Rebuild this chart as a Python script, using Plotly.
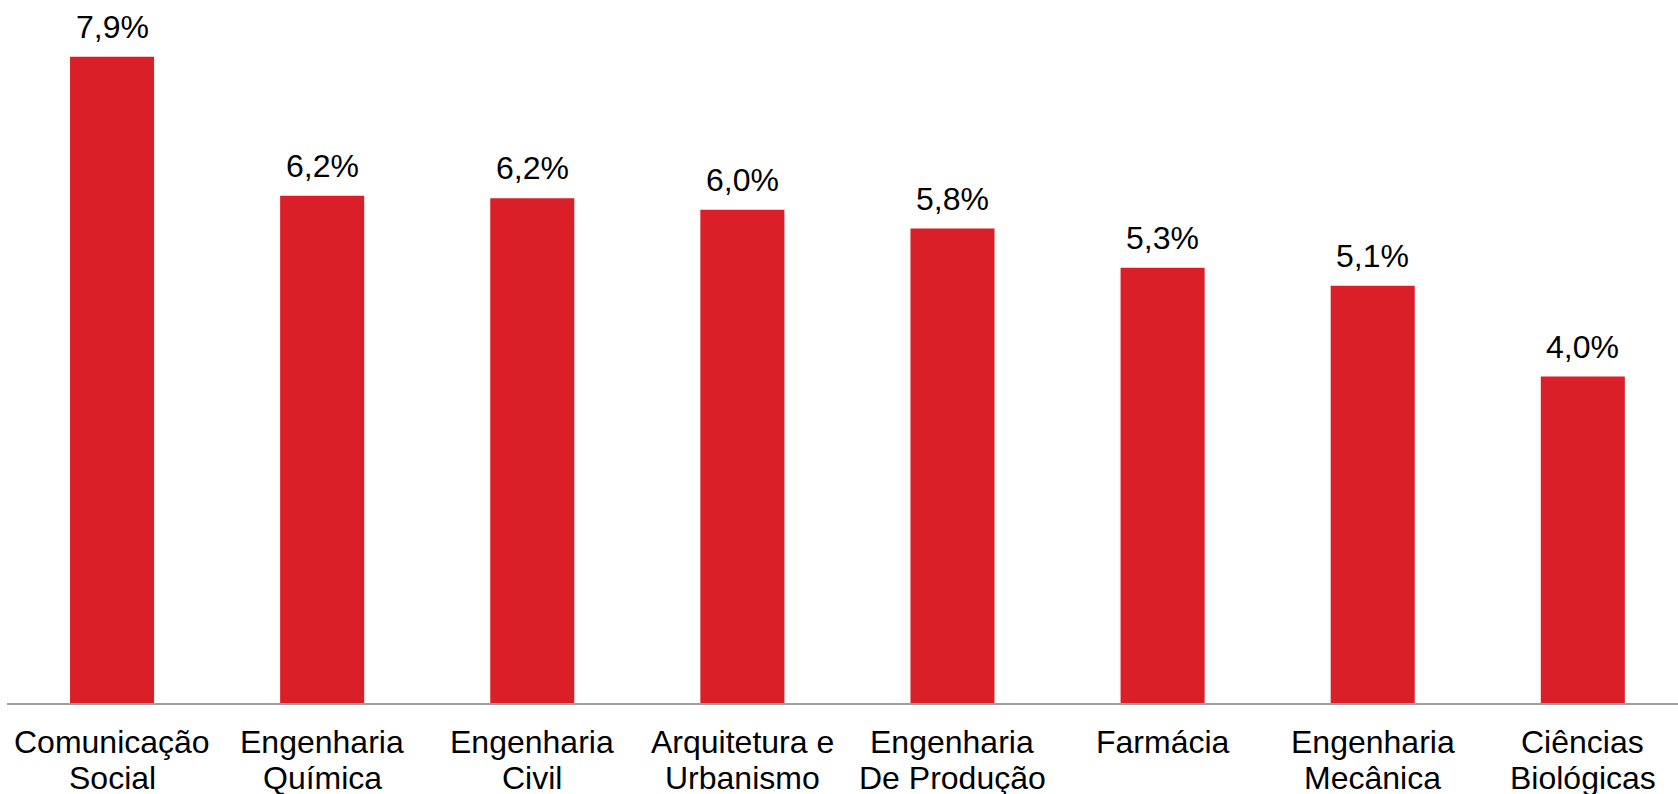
import plotly.graph_objects as go

categories = [
    "Comunicação\nSocial",
    "Engenharia\nQuímica",
    "Engenharia\nCivil",
    "Arquitetura e\nUrbanismo",
    "Engenharia\nDe Produção",
    "Farmácia",
    "Engenharia\nMecânica",
    "Ciências\nBiológicas",
]
values = [7.9, 6.2, 6.17, 6.03, 5.8, 5.32, 5.1, 3.99]

labels = [f"{v:.1f}%".replace(".", ",") for v in values]
xs = list(range(len(categories)))

fig = go.Figure()
fig.add_trace(go.Bar(
    x=xs,
    y=values,
    width=0.4,
    marker=dict(color="#da1f28", line=dict(width=0)),
    hovertext=[c.replace("\n", " ") for c in categories],
))

# value labels above bars
for x, v, lab in zip(xs, values, labels):
    fig.add_annotation(x=x, y=v, text=lab, showarrow=False,
                       yanchor="middle", yshift=30,
                       font=dict(size=32, color="black"))

# category labels, one annotation per line to keep tight line spacing
for x, cat in zip(xs, categories):
    for i, line in enumerate(cat.split("\n")):
        fig.add_annotation(x=x, xref="x", y=0, yref="paper", text=line,
                           showarrow=False, yanchor="middle",
                           yshift=-38.6 - 36 * i,
                           font=dict(size=32, color="black"))

fig.update_layout(
    width=1678,
    height=794,
    margin=dict(l=7, r=0, t=0, b=91),
    paper_bgcolor="white",
    plot_bgcolor="white",
    font=dict(family="Liberation Sans, Arial, sans-serif", size=32, color="black"),
    showlegend=False,
    xaxis=dict(
        range=[-0.5, 7.453],
        showline=True,
        linecolor="#a0a0a0",
        linewidth=2,
        showgrid=False,
        zeroline=False,
        ticks="",
        showticklabels=False,
    ),
    yaxis=dict(
        range=[0, 8.594],
        visible=False,
        showgrid=False,
        zeroline=False,
    ),
)

fig.write_html("out.html", config={"displayModeBar": False},
               post_script="document.body.style.margin='0';")
